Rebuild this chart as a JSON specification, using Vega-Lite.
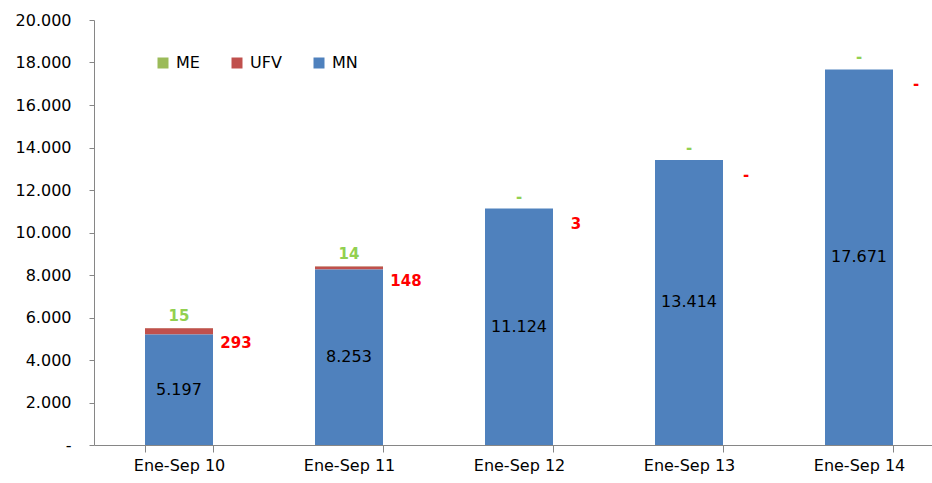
{
  "$schema": "https://vega.github.io/schema/vega-lite/v6.json",
  "width": 838,
  "height": 425,
  "autosize": "none",
  "padding": {"left": 94, "top": 20, "right": 0, "bottom": 38},
  "config": {"font": "DejaVu Sans", "view": {"stroke": null}},
  "data": {
    "values": [
      {"periodo": "Ene-Sep 10", "MN": 5197, "UFV": 293, "ME": 15},
      {"periodo": "Ene-Sep 11", "MN": 8253, "UFV": 148, "ME": 14},
      {"periodo": "Ene-Sep 12", "MN": 11124, "UFV": 3, "ME": 0},
      {"periodo": "Ene-Sep 13", "MN": 13414, "UFV": 0, "ME": 0},
      {"periodo": "Ene-Sep 14", "MN": 17671, "UFV": 0, "ME": 0}
    ]
  },
  "transform": [
    {"calculate": "datum.MN + datum.UFV + datum.ME", "as": "total"},
    {"calculate": "datum.MN / 2", "as": "mid"}
  ],
  "encoding": {
    "x": {
      "field": "periodo", "type": "nominal", "sort": null,
      "scale": {"range": [0, 850], "paddingInner": 0.6, "paddingOuter": 0.3},
      "axis": {
        "title": null, "labelAngle": 0, "tickBand": "extent",
        "domainColor": "#868686", "tickColor": "#868686", "tickSize": 7,
        "labelFontSize": 16, "labelColor": "#000000", "labelPadding": 5
      }
    }
  },
  "layer": [
    {
      "transform": [
        {"fold": ["ME", "UFV", "MN"], "as": ["serie", "valor"]},
        {"calculate": "indexof(['MN','UFV','ME'], datum.serie)", "as": "ord"}
      ],
      "mark": {"type": "bar"},
      "encoding": {
        "y": {
          "field": "valor", "type": "quantitative", "stack": "zero",
          "scale": {"domain": [0, 20000], "nice": false},
          "axis": {
            "title": null, "grid": false,
            "values": [0, 2000, 4000, 6000, 8000, 10000, 12000, 14000, 16000, 18000, 20000],
            "labelExpr": "datum.value == 0 ? '-' : replace(format(datum.value, ','), ',', '.')",
            "domainColor": "#868686", "tickColor": "#868686", "tickSize": 5,
            "labelFontSize": 16, "labelColor": "#000000", "labelPadding": 18
          }
        },
        "color": {
          "field": "serie", "type": "nominal",
          "scale": {"domain": ["ME", "UFV", "MN"], "range": ["#9BBB59", "#C0504D", "#4F81BD"]},
          "legend": {
            "title": null, "orient": "none", "legendX": 61, "legendY": 35,
            "direction": "horizontal", "symbolType": "square", "symbolSize": 121,
            "symbolStrokeWidth": 0, "labelFontSize": 16, "labelColor": "#000000",
            "columnPadding": 29, "labelOffset": 5
          }
        },
        "order": {"field": "ord", "type": "quantitative"}
      }
    },
    {
      "transform": [{"calculate": "replace(format(datum.MN, ','), ',', '.')", "as": "lbl"}],
      "mark": {"type": "text", "fontSize": 16, "color": "#000000", "baseline": "middle"},
      "encoding": {
        "y": {"field": "mid", "type": "quantitative"},
        "text": {"field": "lbl"}
      }
    },
    {
      "transform": [{"calculate": "datum.UFV == 0 ? '-' : replace(format(datum.UFV, ','), ',', '.')", "as": "lbl"}],
      "mark": {"type": "text", "fontSize": 15, "fontWeight": "bold", "color": "#FF0000", "baseline": "middle", "dx": 57, "dy": 15},
      "encoding": {
        "y": {"field": "total", "type": "quantitative"},
        "text": {"field": "lbl"}
      }
    },
    {
      "transform": [{"calculate": "datum.ME == 0 ? '-' : replace(format(datum.ME, ','), ',', '.')", "as": "lbl"}],
      "mark": {"type": "text", "fontSize": 15, "fontWeight": "bold", "color": "#92D050", "baseline": "middle", "dy": -12},
      "encoding": {
        "y": {"field": "total", "type": "quantitative"},
        "text": {"field": "lbl"}
      }
    }
  ]
}
